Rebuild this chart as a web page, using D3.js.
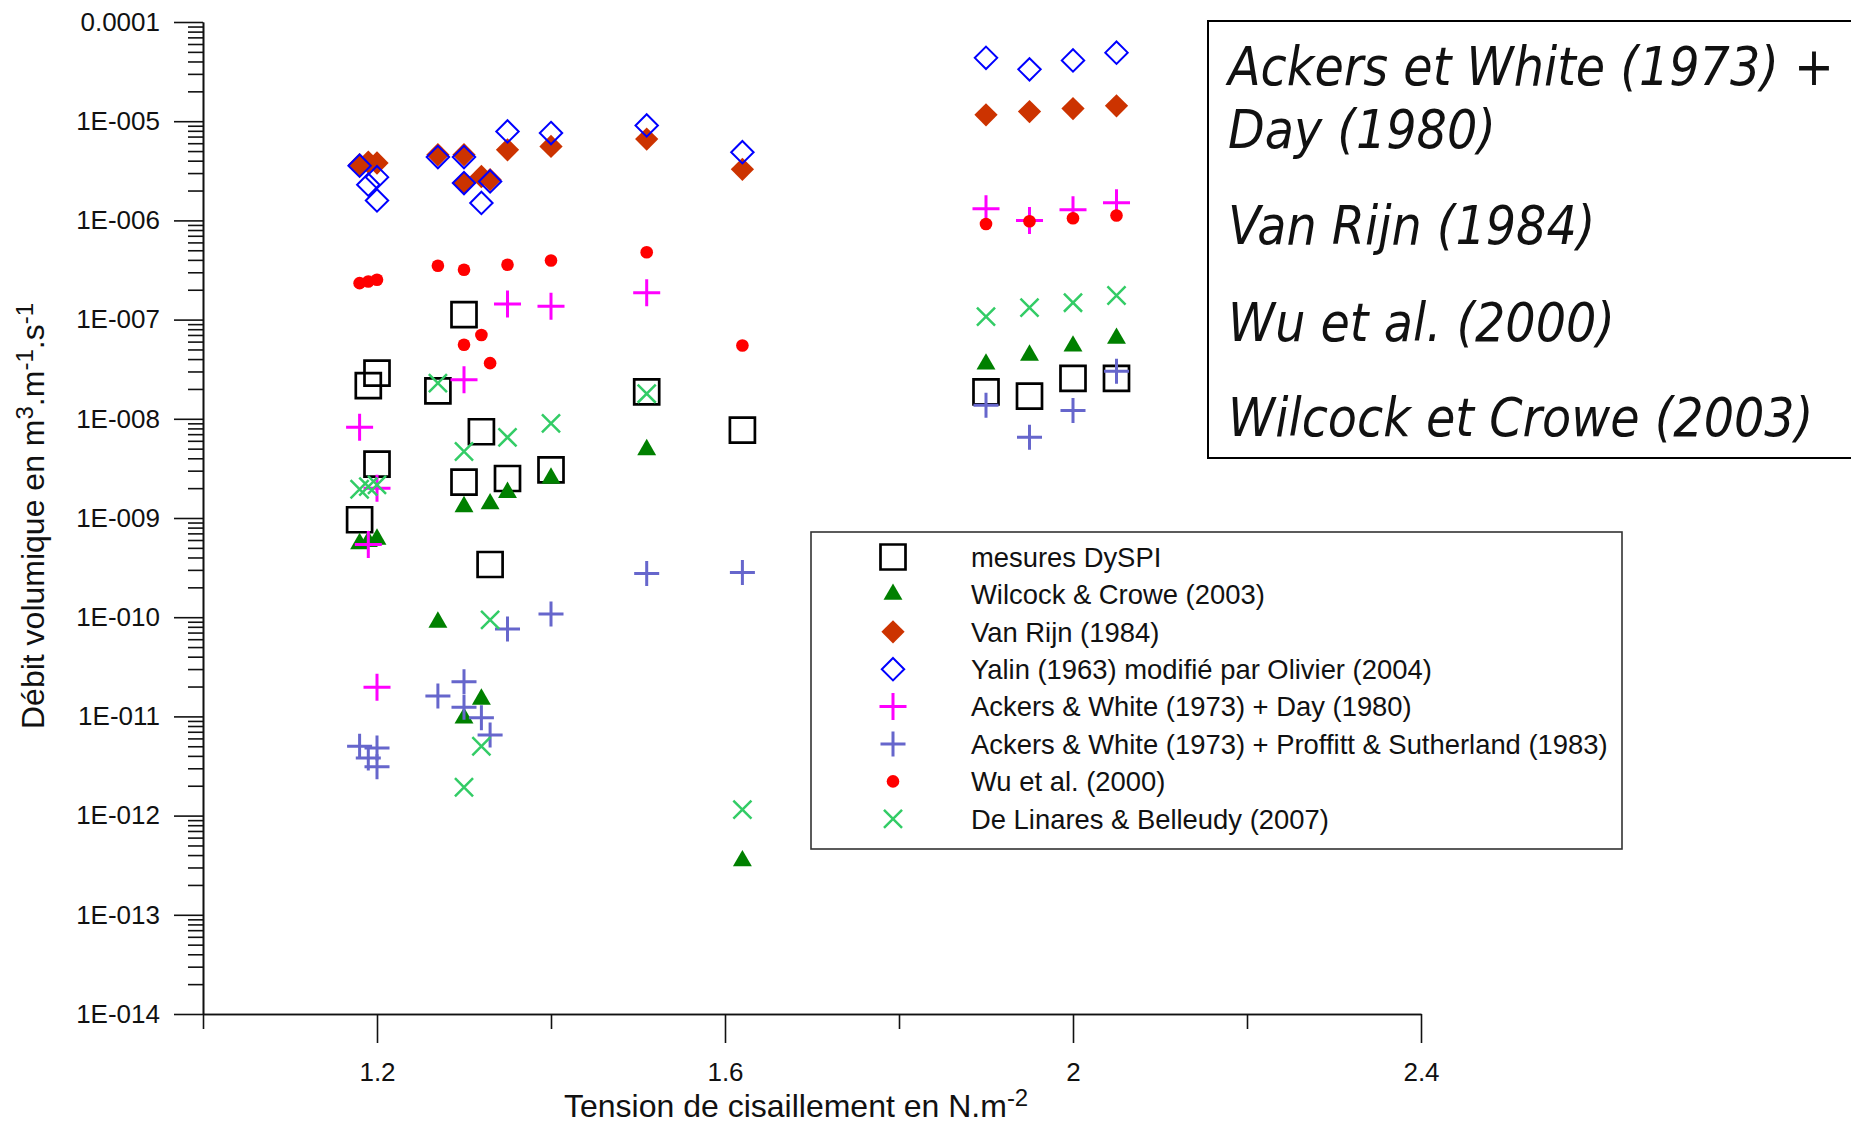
<!DOCTYPE html>
<html>
<head>
<meta charset="utf-8">
<script src="https://cdn.jsdelivr.net/npm/d3@7"></script>
<style>
body { margin: 0; background: #fff; }
text { font-family: "Liberation Sans", Arial, sans-serif; fill: #111; }
</style>
</head>
<body>
<div id="chart"></div>
<script>
// values: [tension (N.m-2), debit (m3.m-1.s-1)]
var mesuresDyspi = [[1.18,9.6e-10],[1.19,2.16e-8],[1.20,2.89e-8],[1.20,3.5e-9],[1.27,1.91e-8],[1.30,1.12e-7],[1.30,2.3e-9],[1.32,7.4e-9],[1.33,3.4e-10],[1.35,2.5e-9],[1.40,3.06e-9],[1.51,1.87e-8],[1.62,7.7e-9],[1.90,1.87e-8],[1.95,1.69e-8],[2.00,2.55e-8],[2.05,2.55e-8]];
var wilcockCrowe = [[1.18,5.5e-10],[1.19,5.8e-10],[1.20,6.1e-10],[1.27,8.9e-11],[1.30,1.3e-9],[1.30,9.6e-12],[1.32,1.49e-11],[1.33,1.39e-9],[1.35,1.81e-9],[1.40,2.52e-9],[1.51,4.87e-9],[1.62,3.5e-13],[1.90,3.56e-8],[1.95,4.38e-8],[2.00,5.4e-8],[2.05,6.47e-8]];
var vanRijn = [[1.18,3.64e-6],[1.19,3.87e-6],[1.20,3.79e-6],[1.27,4.59e-6],[1.30,4.59e-6],[1.30,2.38e-6],[1.32,2.77e-6],[1.33,2.57e-6],[1.35,5.15e-6],[1.40,5.57e-6],[1.51,6.61e-6],[1.62,3.27e-6],[1.90,1.16e-5],[1.95,1.25e-5],[2.00,1.34e-5],[2.05,1.43e-5]];
var yalinOlivier = [[1.18,3.56e-6],[1.19,2.29e-6],[1.20,2.73e-6],[1.20,1.59e-6],[1.27,4.35e-6],[1.30,4.35e-6],[1.30,2.38e-6],[1.32,1.5e-6],[1.33,2.47e-6],[1.35,7.88e-6],[1.40,7.6e-6],[1.51,9.06e-6],[1.62,4.87e-6],[1.90,4.35e-5],[1.95,3.33e-5],[2.00,4.1e-5],[2.05,4.91e-5]];
var ackersDay = [[1.18,8.2e-9],[1.19,5.4e-10],[1.20,2.0e-9],[1.20,1.97e-11],[1.30,2.47e-8],[1.35,1.44e-7],[1.40,1.36e-7],[1.51,1.87e-7],[1.90,1.31e-6],[1.95,1.0e-6],[2.00,1.28e-6],[2.05,1.51e-6]];
var ackersProffitt = [[1.18,5.0e-12],[1.19,3.8e-12],[1.20,4.8e-12],[1.20,3.1e-12],[1.27,1.61e-11],[1.30,2.24e-11],[1.30,1.24e-11],[1.32,9.7e-12],[1.33,6.5e-12],[1.35,7.6e-11],[1.40,1.08e-10],[1.51,2.75e-10],[1.62,2.83e-10],[1.90,1.37e-8],[1.95,6.5e-9],[2.00,1.21e-8],[2.05,3.02e-8]];
var wuEtAl = [[1.18,2.33e-7],[1.19,2.42e-7],[1.20,2.52e-7],[1.27,3.49e-7],[1.30,3.18e-7],[1.30,5.57e-8],[1.32,7.0e-8],[1.33,3.64e-8],[1.35,3.57e-7],[1.40,3.94e-7],[1.51,4.77e-7],[1.62,5.48e-8],[1.90,9.2e-7],[1.95,9.8e-7],[2.00,1.05e-6],[2.05,1.12e-6]];
var deLinares = [[1.18,1.95e-9],[1.19,2.07e-9],[1.20,2.16e-9],[1.27,2.29e-8],[1.30,4.68e-9],[1.30,1.93e-12],[1.32,5.0e-12],[1.33,9.4e-11],[1.35,6.5e-9],[1.40,9.0e-9],[1.51,1.79e-8],[1.62,1.15e-12],[1.90,1.07e-7],[1.95,1.32e-7],[2.00,1.48e-7],[2.05,1.75e-7]];

var seriesNames = ["mesures DySPI", "Wilcock & Crowe (2003)", "Van Rijn (1984)",
    "Yalin (1963) modifié par Olivier (2004)", "Ackers & White (1973) + Day (1980)",
    "Ackers & White (1973) + Proffitt & Sutherland (1983)", "Wu et al. (2000)",
    "De Linares & Belleudy (2007)"];

var yTickValues = [1e-4, 1e-5, 1e-6, 1e-7, 1e-8, 1e-9, 1e-10, 1e-11, 1e-12, 1e-13, 1e-14];
var yTickLabels = ["0.0001", "1E-005", "1E-006", "1E-007", "1E-008", "1E-009", "1E-010", "1E-011", "1E-012", "1E-013", "1E-014"];
var xTickValues = [1.2, 1.6, 2.0, 2.4];
var xTickLabels = ["1.2", "1.6", "2", "2.4"];
var xMinorValues = [1.0, 1.4, 1.8, 2.2];

var boxLines = ["Ackers et White (1973) +", "Day (1980)", "Van Rijn (1984)", "Wu et al. (2000)", "Wilcock et Crowe (2003)"];

// marker styles, same order as the legend
var markers = [
    {data: mesuresDyspi, type: d3.symbolSquare, size: 625, fill: "none", stroke: "#000", sw: 2.7},
    {data: wilcockCrowe, type: d3.symbolTriangle, size: 155, fill: "#008000", stroke: "none", sw: 0},
    {data: vanRijn, type: d3.symbolDiamond2, size: 345, fill: "#cc3300", stroke: "none", sw: 0},
    {data: yalinOlivier, type: d3.symbolDiamond2, size: 320, fill: "none", stroke: "#0000ff", sw: 2},
    {data: ackersDay, type: d3.symbolPlus, size: 240, fill: "none", stroke: "#ff00ff", sw: 3},
    {data: ackersProffitt, type: d3.symbolPlus, size: 206, fill: "none", stroke: "#6666cc", sw: 3},
    {data: wuEtAl, type: d3.symbolCircle, size: 125, fill: "#ff0000", stroke: "none", sw: 0},
    {data: deLinares, type: d3.symbolTimes, size: 215, fill: "none", stroke: "#33cc66", sw: 2.5}
];

// set the dimensions and margins of the graph
var margin = {top: 22, right: 430, bottom: 108, left: 203},
    width = 1851 - margin.left - margin.right,
    height = 1122 - margin.top - margin.bottom;

var svg = d3.select("#chart")
    .append("svg")
    .attr("width", 1851)
    .attr("height", 1122);

var g = svg.append("g")
    .attr("transform", "translate(" + margin.left + "," + margin.top + ")");

var x = d3.scaleLinear().domain([1.0, 2.4]).range([0, width]);
var y = d3.scaleLog().domain([1e-14, 1e-4]).range([height, 0]);

// minor ticks of the log axis
var yMinorValues = [];
for (var e = -14; e < -4; e++) {
    for (var k = 2; k <= 9; k++) yMinorValues.push(k * Math.pow(10, e));
}

function styleAxis(sel) {
    sel.attr("font-family", null).attr("font-size", null);
    sel.selectAll("path, line").attr("stroke", "#111").attr("stroke-width", 1.6);
    sel.selectAll("text").style("font-size", "26px").attr("fill", "#111");
}

// Y axis
g.append("g")
    .call(d3.axisLeft(y).tickValues(yMinorValues).tickSize(15).tickSizeOuter(0).tickFormat(""))
    .call(styleAxis);
g.append("g")
    .call(d3.axisLeft(y).tickValues(yTickValues).tickSize(29).tickSizeOuter(0).tickPadding(14)
        .tickFormat(function(d, i) { return yTickLabels[i]; }))
    .call(styleAxis);

// X axis
g.append("g")
    .attr("transform", "translate(0," + height + ")")
    .call(d3.axisBottom(x).tickValues(xMinorValues).tickSize(15).tickSizeOuter(0).tickFormat(""))
    .call(styleAxis);
g.append("g")
    .attr("transform", "translate(0," + height + ")")
    .call(d3.axisBottom(x).tickValues(xTickValues).tickSize(29).tickSizeOuter(0).tickPadding(20)
        .tickFormat(function(d, i) { return xTickLabels[i]; }))
    .call(styleAxis);

// axis titles
var yTitle = svg.append("text")
    .attr("transform", "translate(44," + (margin.top + height / 2 - 2) + ") rotate(-90)")
    .attr("text-anchor", "middle")
    .style("font-size", "32px");
yTitle.append("tspan").text("Débit volumique en m");
yTitle.append("tspan").attr("dy", -11).style("font-size", "24px").text("3");
yTitle.append("tspan").attr("dy", 11).text(".m");
yTitle.append("tspan").attr("dy", -11).style("font-size", "24px").text("-1");
yTitle.append("tspan").attr("dy", 11).text(".s");
yTitle.append("tspan").attr("dy", -11).style("font-size", "24px").text("-1");

var xTitle = svg.append("text")
    .attr("x", 564)
    .attr("y", 1117)
    .style("font-size", "32px");
xTitle.append("tspan").text("Tension de cisaillement en N.m");
xTitle.append("tspan").attr("dy", -11).style("font-size", "24px").text("-2");

// points
markers.forEach(function(m) {
    var sym = d3.symbol().type(m.type).size(m.size);
    g.append("g")
        .selectAll("path")
        .data(m.data)
        .enter()
        .append("path")
        .attr("transform", function(d) { return "translate(" + x(d[0]) + "," + y(d[1]) + ")"; })
        .attr("d", sym)
        .attr("fill", m.fill)
        .attr("stroke", m.stroke)
        .attr("stroke-width", m.sw);
});

// legend
var legend = svg.append("g").attr("transform", "translate(811,532)");
legend.append("rect")
    .attr("width", 811)
    .attr("height", 317)
    .attr("fill", "#fff")
    .attr("stroke", "#333")
    .attr("stroke-width", 1.6);
var rows = legend.selectAll("g.row")
    .data(markers)
    .enter()
    .append("g")
    .attr("class", "row")
    .attr("transform", function(d, i) { return "translate(0," + (25 + i * 37.4) + ")"; });
rows.append("path")
    .attr("transform", "translate(82,0)")
    .attr("d", function(m) { return d3.symbol().type(m.type).size(m.size)(); })
    .attr("fill", function(m) { return m.fill; })
    .attr("stroke", function(m) { return m.stroke; })
    .attr("stroke-width", function(m) { return m.sw; });
rows.append("text")
    .attr("x", 160)
    .attr("dy", "0.36em")
    .style("font-size", "27.4px")
    .text(function(d, i) { return seriesNames[i]; });

// comment box, top right
var box = svg.append("g").attr("transform", "translate(1208,21)");
box.append("rect")
    .attr("width", 700)
    .attr("height", 437)
    .attr("fill", "#fff")
    .attr("stroke", "#000")
    .attr("stroke-width", 2);
var boxY = [64, 127, 223, 320, 415];
box.selectAll("text")
    .data(boxLines)
    .enter()
    .append("text")
    .attr("x", 20)
    .attr("y", function(d, i) { return boxY[i]; })
    .style("font-family", "'DejaVu Sans Condensed', 'DejaVu Sans', sans-serif")
    .style("font-stretch", "condensed")
    .style("font-style", "italic")
    .style("font-size", "53px")
    .attr("fill", "#000")
    .text(function(d) { return d; });
</script>
</body>
</html>
